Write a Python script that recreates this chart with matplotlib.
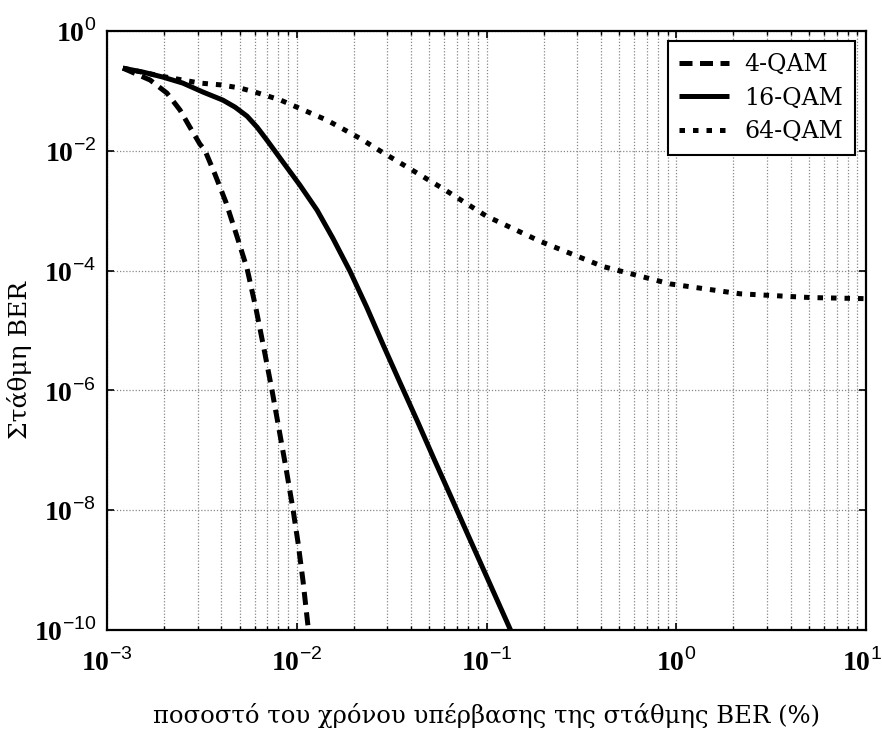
import matplotlib
matplotlib.use("Agg")
import matplotlib.pyplot as plt
import matplotlib.transforms as mtransforms
from matplotlib.ticker import LogLocator, FixedLocator, NullLocator

# ---- data ----
x_4qam = [1.213e-3, 1.687e-3, 2.070e-3, 2.427e-3, 2.735e-3, 3.090e-3, 3.281e-3,
          3.707e-3, 4.236e-3, 4.842e-3, 5.470e-3, 6.095e-3, 6.714e-3, 7.413e-3,
          8.054e-3, 8.770e-3, 9.550e-3, 1.016e-2, 1.079e-2, 1.146e-2, 1.175e-2]
y_4qam = [0.240, 0.152, 0.0919, 0.0478, 0.0248, 0.0129, 0.0102,
          4.06e-3, 1.38e-3, 3.73e-4, 1.09e-4, 2.33e-5, 5.0e-6, 9.9e-7,
          2.30e-7, 5.1e-8, 1.05e-8, 2.85e-9, 6.6e-10, 1.17e-10, 6.6e-11]

x_16qam = [1.213e-3, 1.549e-3, 1.972e-3, 2.51e-3, 3.21e-3, 4.08e-3, 4.73e-3,
           5.47e-3, 6.18e-3, 6.97e-3, 8.47e-3, 1.04e-2, 1.28e-2, 1.55e-2, 1.91e-2,
           2.34e-2, 2.85e-2, 3.50e-2, 4.31e-2, 5.28e-2, 6.50e-2, 7.98e-2,
           9.82e-2, 0.1346]
y_16qam = [0.240, 0.206, 0.170, 0.135, 0.0955, 0.0702, 0.0536,
           0.0379, 0.0248, 0.0150, 6.45e-3, 2.66e-3, 1.02e-3, 3.47e-4, 9.7e-5,
           2.43e-5, 5.8e-6, 1.35e-6, 3.13e-7, 7.24e-8, 1.67e-8, 3.88e-9,
           8.97e-10, 9.6e-11]

x_64qam = [1.213e-3, 1.972e-3, 3.09e-3, 3.98e-3, 5.01e-3, 6.03e-3, 8.17e-3, 1.445e-2,
           2.15e-2, 2.85e-2, 3.81e-2, 5.89e-2, 0.1, 0.191, 0.411, 0.927,
           2.17, 5.07, 10.0]
y_64qam = [0.24, 0.174, 0.135, 0.126, 0.112, 0.0955, 0.0708, 0.0324,
           0.0162, 9.3e-3, 5.37e-3, 2.34e-3, 8.1e-4, 3.1e-4, 1.17e-4, 6.0e-5,
           4.1e-5, 3.55e-5, 3.4e-5]

series_labels = ["4-QAM", "16-QAM", "64-QAM"]
x_ticks = [1e-3, 1e-2, 1e-1, 1e0, 1e1]
x_tick_exps = ["-3", "-2", "-1", "0", "1"]
y_ticks = [1e-10, 1e-8, 1e-6, 1e-4, 1e-2, 1e0]
y_tick_exps = ["-10", "-8", "-6", "-4", "-2", "0"]
x_label = "ποσοστό του χρόνου υπέρβασης της στάθμης BER (%)"
y_label = "Στάθμη BER"

# ---- style ----
plt.rcParams["font.family"] = ["DejaVu Serif", "Liberation Serif"]
plt.rcParams["mathtext.fontset"] = "custom"
plt.rcParams["mathtext.rm"] = "Liberation Serif"
plt.rcParams["mathtext.bf"] = "Liberation Serif:bold"
plt.rcParams["mathtext.sf"] = "Liberation Sans"

fig = plt.figure(figsize=(8.82, 7.33), dpi=100)
ax = fig.add_axes([0.1213, 0.1405, 0.8606, 0.8172])

lw = 3.6
ax.plot(x_4qam, y_4qam, color="black", lw=lw, linestyle=(0, (2.6, 1.5)),
        dash_capstyle="butt", label=series_labels[0])
ax.plot(x_16qam, y_16qam, color="black", lw=lw, linestyle="-",
        solid_capstyle="butt", label=series_labels[1])
ax.plot(x_64qam, y_64qam, color="black", lw=lw, linestyle=(0, (1.1, 1.6)),
        dash_capstyle="butt", label=series_labels[2])

ax.set_xscale("log")
ax.set_yscale("log")
ax.set_xlim(1e-3, 1e1)
ax.set_ylim(1e-10, 1e0)

ax.xaxis.set_major_locator(FixedLocator(x_ticks))
ax.xaxis.set_minor_locator(LogLocator(base=10, subs=range(2, 10), numticks=50))
ax.yaxis.set_major_locator(FixedLocator(y_ticks))
ax.yaxis.set_minor_locator(NullLocator())
ax.set_xticklabels([r"$\mathbf{10}^{\mathsf{%s}}$" % e for e in x_tick_exps], fontsize=20)
ax.set_yticklabels([r"$\mathbf{10}^{\mathsf{%s}}$" % e for e in y_tick_exps], fontsize=20)

ax.tick_params(which="both", direction="in", top=True, right=True, color="black")
ax.tick_params(which="major", length=5, width=1.2)
ax.tick_params(axis="x", which="major", pad=13)
ax.tick_params(axis="y", which="major", pad=8)
ax.tick_params(which="minor", length=3, width=1.0)

# keep the last x tick label inside the canvas
last_lbl = ax.get_xticklabels()[-1]
last_lbl.set_transform(last_lbl.get_transform() +
                       mtransforms.ScaledTranslation(-4 / 100, 0, fig.dpi_scale_trans))

ax.grid(True, which="major", axis="both", color="#888888", linestyle=(0, (1, 1.5)), lw=0.9)
ax.grid(True, which="minor", axis="x", color="#888888", linestyle=(0, (1, 1.5)), lw=0.9)

for sp in ax.spines.values():
    sp.set_linewidth(1.6)
    sp.set_color("black")

ax.set_xlabel(x_label, fontsize=17.5)
ax.xaxis.set_label_coords(0.5, -0.122)
ax.set_ylabel(y_label, fontsize=18)
ax.yaxis.set_label_coords(-0.099, 0.45)

leg = ax.legend(loc="upper right", fontsize=17, frameon=True, fancybox=False,
                edgecolor="black", framealpha=1, handlelength=2.1,
                borderpad=0.5, labelspacing=0.45, handletextpad=0.65,
                borderaxespad=0.0, bbox_to_anchor=(0.9855, 0.9833))
leg.get_frame().set_linewidth(1.5)

fig.savefig("out.png", dpi=100)
